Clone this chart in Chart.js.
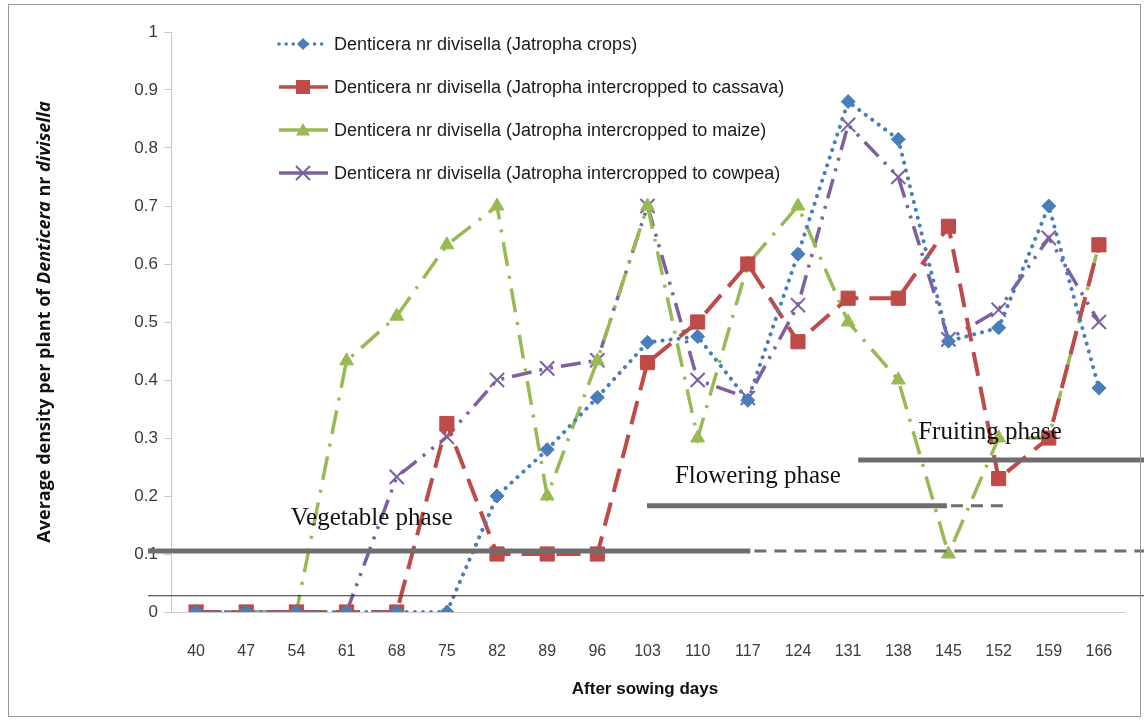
<!DOCTYPE html>
<html>
<head>
<meta charset="utf-8">
<script src="https://cdn.jsdelivr.net/npm/chart.js@4.4.1/dist/chart.umd.min.js"></script>
<style>
  html, body { margin: 0; padding: 0; background: #fff; }
  #wrap { position: relative; width: 1144px; height: 721px; }
  #frame { position: absolute; left: 8px; top: 4px; width: 1133px; height: 713px;
           border: 1px solid #999; box-sizing: border-box; pointer-events: none; }
</style>
</head>
<body>
<div id="wrap">
  <canvas id="densityChart" width="1144" height="721"></canvas>
  <div id="frame"></div>
</div>
<script>
const days = [40, 47, 54, 61, 68, 75, 82, 89, 96, 103, 110, 117, 124, 131, 138, 145, 152, 159, 166];

const seriesNames = [
  "Denticera nr divisella (Jatropha crops)",
  "Denticera nr divisella (Jatropha intercropped to cassava)",
  "Denticera nr divisella (Jatropha intercropped to maize)",
  "Denticera nr divisella (Jatropha intercropped to cowpea)",
];

const cropsValues   = [0, 0, 0, 0, 0, 0, 0.20, 0.28, 0.37, 0.465, 0.475, 0.365, 0.617, 0.88, 0.815, 0.467, 0.49, 0.70, 0.386];
const cassavaValues = [0, 0, 0, 0, 0, 0.325, 0.10, 0.10, 0.10, 0.43, 0.50, 0.60, 0.466, 0.541, 0.541, 0.665, 0.23, 0.30, 0.633];
const maizeValues   = [0, 0, 0, 0.433, 0.51, 0.633, 0.70, 0.20, 0.433, 0.70, 0.30, 0.60, 0.70, 0.50, 0.40, 0.10, 0.30, 0.30, 0.633];
const cowpeaValues  = [0, 0, 0, 0, 0.233, 0.302, 0.40, 0.42, 0.434, 0.70, 0.40, 0.369, 0.529, 0.84, 0.75, 0.47, 0.521, 0.645, 0.50];

const yTicks = [0, 0.1, 0.2, 0.3, 0.4, 0.5, 0.6, 0.7, 0.8, 0.9, 1];

const phaseNames = ["Vegetable phase", "Flowering phase", "Fruiting phase"];

const textColor = "#3a3a3a";
const sans = "'Liberation Sans', sans-serif";

// phase bars drawn over the plot (x in category index units, y in data units)
const phaseBars = [
  { y: 0.105, from: -0.96, solidTo: 11.05, dashTo: 18.9, labelX: 3.5, labelY: 0.162 },
  { y: 0.183, from: 8.99, solidTo: 14.97, dashTo: 16.1, labelX: 11.2, labelY: 0.234 },
  { y: 0.262, from: 13.2, solidTo: 18.9, dashTo: null, labelX: 15.83, labelY: 0.31 },
];

const phasePlugin = {
  id: "phases",
  afterDatasetsDraw(chart) {
    const { ctx, scales } = chart;
    const xs = scales.x, ys = scales.y;
    ctx.save();
    // thin baseline
    ctx.strokeStyle = "#333";
    ctx.lineWidth = 1;
    ctx.beginPath();
    ctx.moveTo(xs.getPixelForValue(-0.96), ys.getPixelForValue(0.028));
    ctx.lineTo(xs.getPixelForValue(18.9), ys.getPixelForValue(0.028));
    ctx.stroke();

    phaseBars.forEach((p, i) => {
      const y = ys.getPixelForValue(p.y);
      ctx.strokeStyle = "#6e6e6e";
      ctx.lineWidth = 5;
      ctx.setLineDash([]);
      ctx.beginPath();
      ctx.moveTo(xs.getPixelForValue(p.from), y);
      ctx.lineTo(xs.getPixelForValue(p.solidTo), y);
      ctx.stroke();
      if (p.dashTo !== null) {
        ctx.lineWidth = 3;
        ctx.setLineDash([12, 8]);
        ctx.beginPath();
        ctx.moveTo(xs.getPixelForValue(p.solidTo) + 4, y);
        ctx.lineTo(xs.getPixelForValue(p.dashTo), y);
        ctx.stroke();
      }
      ctx.setLineDash([]);
      ctx.fillStyle = "#111";
      ctx.font = "25px 'Liberation Serif', serif";
      ctx.textAlign = "center";
      ctx.textBaseline = "middle";
      ctx.fillText(phaseNames[i], xs.getPixelForValue(p.labelX), ys.getPixelForValue(p.labelY));
    });
    ctx.restore();
  },
};

const drawMarker = (ctx, style, x, y, r) => {
  ctx.beginPath();
  if (style === "rectRot") {
    ctx.moveTo(x, y - r); ctx.lineTo(x + r, y); ctx.lineTo(x, y + r); ctx.lineTo(x - r, y);
    ctx.closePath(); ctx.fill();
  } else if (style === "rect") {
    ctx.fillRect(x - r, y - r, 2 * r, 2 * r);
  } else if (style === "triangle") {
    ctx.moveTo(x, y - r); ctx.lineTo(x + r, y + r * 0.8); ctx.lineTo(x - r, y + r * 0.8);
    ctx.closePath(); ctx.fill();
  } else {
    ctx.moveTo(x - r, y - r); ctx.lineTo(x + r, y + r);
    ctx.moveTo(x + r, y - r); ctx.lineTo(x - r, y + r);
    ctx.stroke();
  }
};

const legendPlugin = {
  id: "insideLegend",
  afterDraw(chart) {
    const { ctx } = chart;
    ctx.save();
    chart.data.datasets.forEach((ds, i) => {
      const y = 44 + i * 43;
      ctx.strokeStyle = ds.borderColor;
      ctx.fillStyle = ds.borderColor;
      ctx.lineWidth = 3.5;
      ctx.lineCap = i === 0 ? "round" : "butt";
      ctx.setLineDash(i === 0 ? [0.1, 7] : []);
      ctx.beginPath();
      ctx.moveTo(279, y);
      ctx.lineTo(328, y);
      ctx.stroke();
      ctx.setLineDash([]);
      ctx.lineWidth = 2;
      drawMarker(ctx, ds.pointStyle, 303, y, i === 0 ? 6 : 7);
      ctx.fillStyle = "#1a1a1a";
      ctx.font = "18px " + sans;
      ctx.textAlign = "left";
      ctx.textBaseline = "middle";
      ctx.fillText(ds.label, 334, y + 1);
    });
    ctx.restore();
  },
};

const titlePlugin = {
  id: "axisTitles",
  afterDraw(chart) {
    const { ctx } = chart;
    ctx.save();
    ctx.fillStyle = "#111";
    ctx.textBaseline = "middle";
    // x title
    ctx.font = "bold 17px " + sans;
    ctx.textAlign = "center";
    ctx.fillText("After sowing days", 645, 689);
    // y title with italic parts
    const parts = [
      ["Average density per plant of ", false],
      ["Denticera", true],
      [" nr ", false],
      ["divisella", true],
    ];
    const fontFor = (it) => (it ? "italic " : "") + "bold 18px 'Open Sans', sans-serif";
    let total = 0;
    parts.forEach(([t, it]) => { ctx.font = fontFor(it); total += ctx.measureText(t).width; });
    ctx.translate(45, 322);
    ctx.rotate(-Math.PI / 2);
    ctx.textAlign = "left";
    let x = -total / 2;
    parts.forEach(([t, it]) => {
      ctx.font = fontFor(it);
      ctx.fillText(t, x, 0);
      x += ctx.measureText(t).width;
    });
    ctx.restore();
  },
};

const makeSet = (label, data, color, dash, style, radius, width) => ({
  label,
  data,
  borderColor: color,
  backgroundColor: color,
  borderWidth: width,
  borderDash: dash,
  borderCapStyle: dash[0] < 1 ? "round" : "butt",
  pointStyle: style,
  pointRadius: radius,
  pointHoverRadius: radius,
  pointBorderWidth: style === "crossRot" ? 2 : 1,
  tension: 0,
  fill: false,
});

const ctx = document.getElementById("densityChart").getContext("2d");
const densityChart = new Chart(ctx, {
  type: "line",
  data: {
    labels: days,
    datasets: [
      makeSet(seriesNames[0], cropsValues, "rgb(74,126,187)", [0.1, 8], "rectRot", 7, 4),
      makeSet(seriesNames[1], cassavaValues, "rgb(190,75,72)", [24, 11], "rect", 10, 4),
      makeSet(seriesNames[2], maizeValues, "rgb(152,185,84)", [24, 10, 3, 10], "triangle", 8, 3.5),
      makeSet(seriesNames[3], cowpeaValues, "rgb(125,96,160)", [20, 8, 3, 8, 3, 8], "crossRot", 10, 3.5),
    ],
  },
  options: {
    responsive: false,
    animation: false,
    devicePixelRatio: 1,
    layout: { padding: { left: 0, top: 32, right: 20, bottom: 0 } },
    plugins: {
      legend: { display: false },
      tooltip: { enabled: false },
    },
    scales: {
      x: {
        offset: true,
        grid: { display: false },
        border: { display: true, color: "#c8c8c8", width: 1 },
        ticks: { color: textColor, font: { family: sans, size: 16 }, padding: 22, maxRotation: 0, autoSkip: false },
        afterFit: (scale) => { scale.height = 109; },
      },
      y: {
        min: 0,
        max: 1,
        afterBuildTicks: (scale) => { scale.ticks = yTicks.map((v) => ({ value: v })); },
        grid: { drawOnChartArea: false, tickLength: 7, color: "#c8c8c8" },
        border: { display: true, color: "#c8c8c8", width: 1 },
        ticks: {
          color: textColor,
          font: { family: sans, size: 17 },
          padding: 6,
          callback: (v) => String(Number(v.toFixed(1))),
        },
        afterFit: (scale) => { scale.width = 171; },
      },
    },
  },
  plugins: [phasePlugin, legendPlugin, titlePlugin],
});
</script>
</body>
</html>
